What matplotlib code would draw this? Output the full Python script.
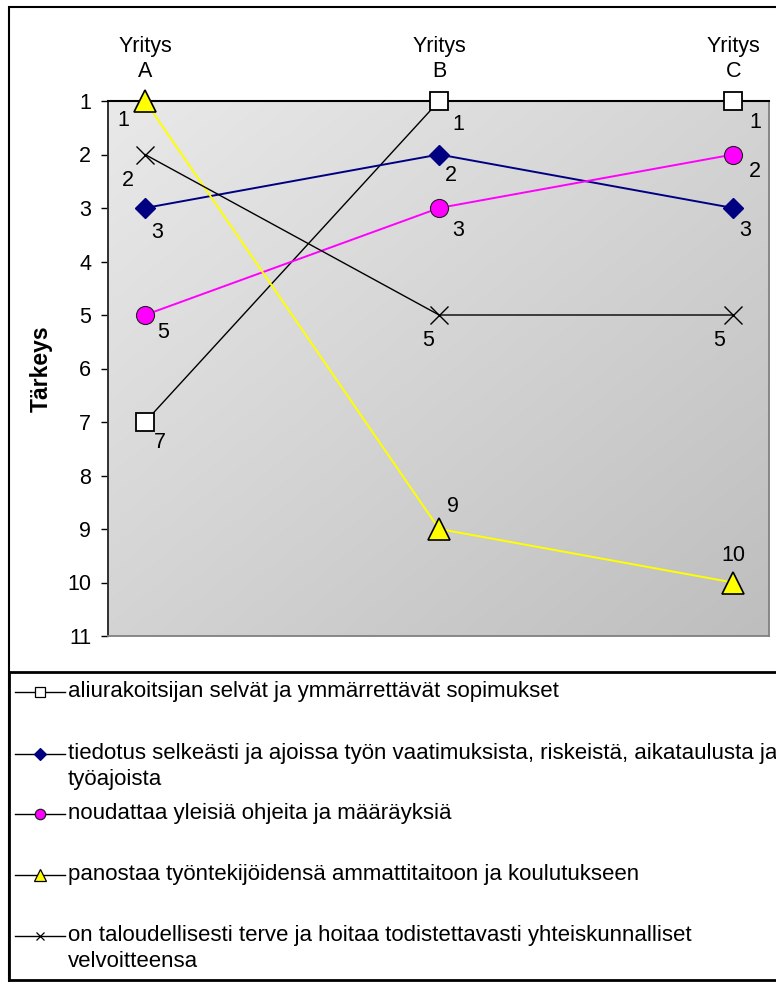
import numpy as np
import matplotlib
matplotlib.use("Agg")
import matplotlib.pyplot as plt
from matplotlib.patches import Rectangle
from matplotlib.colors import LinearSegmentedColormap

# ---- data ----
companies = ["Yritys\nA", "Yritys\nB", "Yritys\nC"]
y_ticks = [1, 2, 3, 4, 5, 6, 7, 8, 9, 10, 11]
series_names = [
    "aliurakoitsijan selvät ja ymmärrettävät sopimukset",
    "tiedotus selkeästi ja ajoissa työn vaatimuksista, riskeistä, aikataulusta ja\ntyöajoista",
    "noudattaa yleisiä ohjeita ja määräyksiä",
    "panostaa työntekijöidensä ammattitaitoon ja koulutukseen",
    "on taloudellisesti terve ja hoitaa todistettavasti yhteiskunnalliset\nvelvoitteensa",
]
sopimukset = [7, 1, 1]
tiedotus = [3, 2, 3]
noudattaa = [5, 3, 2]
panostaa = [1, 9, 10]
taloudellisesti = [2, 5, 5]

plt.rcParams["font.family"] = ["Liberation Sans", "DejaVu Sans"]
FS = 15.5
LFS = 16

W, H = 776, 982
fig = plt.figure(figsize=(W / 100, H / 100), dpi=100)

def fx(px):
    return px / W

def fy(py):
    return 1 - py / H

# outer frame
fig.patches.append(Rectangle((fx(9), fy(990)), fx(790) - fx(9), fy(7) - fy(990),
                             transform=fig.transFigure, fill=False, edgecolor="black", lw=1.5))

ax = fig.add_axes([fx(108), fy(636), fx(769) - fx(108), fy(101) - fy(636)])

# gradient background
gx, gy = np.meshgrid(np.linspace(0, 1, 200), np.linspace(0, 1, 200))
grad = (gx + gy) / 2.0
cmap = LinearSegmentedColormap.from_list("g", ["#e9e9e9", "#bebebe"])
ax.imshow(grad, extent=(0, 1, 0, 1), transform=ax.transAxes, aspect="auto",
          cmap=cmap, zorder=0, origin="upper", interpolation="bilinear")

x = np.arange(len(companies))
styles = [
    dict(color="black", lw=1.0, marker="s", ms=13, mfc="white", mec="black", mew=1.3),
    dict(color="#000080", lw=1.4, marker="D", ms=10.5, mfc="#000080", mec="#000080", mew=1.0),
    dict(color="#ff00ff", lw=1.4, marker="o", ms=13, mfc="#ff00ff", mec="#202020", mew=0.8),
    dict(color="#ffff00", lw=1.4, marker="^", ms=15.5, mfc="#ffff00", mec="black", mew=1.2),
    dict(color="black", lw=1.0, marker="x", ms=13, mfc="black", mec="black", mew=1.0),
]
legend_ms = [7, 6.5, 7.5, 8, 6]
data = [sopimukset, tiedotus, noudattaa, panostaa, taloudellisesti]
# label offsets (pixels) for each point
offsets = [
    [(15, -20), (19, -23), (22, -22)],
    [(12, -24), (12, -21), (12, -23)],
    [(18, -18), (19, -23), (22, -17)],
    [(-22, -19), (14, 22), (0, 27)],
    [(-17, -26), (-11, -25), (-14, -25)],
]
lines = []
for vals, st, offs, name in zip(data, styles, offsets, series_names):
    ln, = ax.plot(x, vals, zorder=3, clip_on=False, label=name, **st)
    lines.append(ln)
    for xi, v, o in zip(x, vals, offs):
        ax.annotate(str(v), (xi, v), xytext=o, textcoords="offset pixels",
                    ha="center", va="center", fontsize=FS, color="black", zorder=4)

ax.set_xlim(-0.126, 2.122)
ax.set_ylim(11, 1)
ax.set_yticks(y_ticks)
ax.set_yticklabels([str(t) for t in y_ticks], fontsize=FS)
ax.tick_params(axis="y", direction="out", length=5, width=1, pad=7, colors="black")
ax.xaxis.tick_top()
ax.set_xticks(x)
ax.set_xticklabels(companies, fontsize=FS, linespacing=1.2)
ax.tick_params(axis="x", length=0, pad=14)

for s in ["bottom", "right"]:
    ax.spines[s].set_color("#808080")
    ax.spines[s].set_linewidth(1.3)
ax.spines["top"].set_color("black")
ax.spines["top"].set_linewidth(1.5)
ax.spines["left"].set_color("#303030")
ax.spines["left"].set_linewidth(1.4)

ax.set_ylabel("Tärkeys", fontsize=16.5, fontweight="bold")
ax.yaxis.set_label_coords((53 - 108) / (769 - 108), 0.5)

# legend box
fig.patches.append(Rectangle((fx(9), fy(980)), fx(800) - fx(9), fy(672) - fy(980),
                             transform=fig.transFigure, fill=False, edgecolor="black", lw=2))
lax = fig.add_axes([0, 0, 1, 1], facecolor="none")
lax.set_xlim(0, W)
lax.set_ylim(H, 0)
lax.axis("off")
leg_rows = [692, 754, 814, 875, 936]
for ln, name, yy, lms in zip(lines, series_names, leg_rows, legend_ms):
    lax.plot([15, 65], [yy, yy], color="black", lw=1.0)
    lax.plot([40], [yy], linestyle="none", marker=ln.get_marker(),
             ms=lms, mfc=ln.get_markerfacecolor(),
             mec=ln.get_markeredgecolor(), mew=0.9)
    lax.text(68, yy - 11, name, fontsize=LFS, va="top", ha="left",
             linespacing=1.3, transform=lax.transData)

fig.savefig("out.png", dpi=100)
